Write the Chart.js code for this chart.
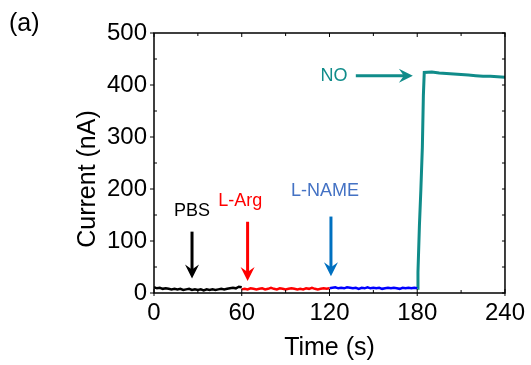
<!DOCTYPE html>
<html lang="en">
<head>
    <meta charset="UTF-8">
    <title>Current vs Time</title>
    <script src="https://cdn.jsdelivr.net/npm/chart.js"></script>
    <style>
        html, body {
            margin: 0;
            padding: 0;
            background: #ffffff;
            overflow: hidden;
        }
        .chart-box {
            width: 531px;
            height: 365px;
            position: relative;
        }
    </style>
</head>
<body>
    <div class="chart-box">
        <canvas id="currentChart" width="531" height="365"></canvas>
    </div>

    <script>
        // PBS segment (black)
        const timePBS = [0, 2, 4, 6, 8, 10, 12, 14, 16, 18, 20, 22, 24, 26, 28, 30, 32, 34, 36, 38, 40, 42, 44, 46, 48, 50, 52, 54, 56, 58, 60];
        const currentPBS = [11, 9, 10, 8, 9, 8, 7, 8, 7, 8, 6, 7, 8, 6, 7, 6, 7, 5, 7, 6, 7, 6, 7, 8, 7, 8, 9, 10, 9, 12, 11];

        // L-Arg segment (red)
        const timeArg = [60, 62, 64, 66, 68, 70, 72, 74, 76, 78, 80, 82, 84, 86, 88, 90, 92, 94, 96, 98, 100, 102, 104, 106, 108, 110, 112, 114, 116, 118, 120];
        const currentArg = [7, 8, 7, 9, 8, 7, 8, 9, 7, 8, 10, 8, 7, 9, 8, 7, 8, 9, 8, 7, 8, 7, 9, 8, 10, 8, 7, 8, 9, 8, 9];

        // L-NAME segment (blue)
        const timeName = [120, 122, 124, 126, 128, 130, 132, 134, 136, 138, 140, 142, 144, 146, 148, 150, 152, 154, 156, 158, 160, 162, 164, 166, 168, 170, 172, 174, 176, 178, 180];
        const currentName = [9, 10, 11, 9, 10, 9, 11, 10, 9, 10, 8, 10, 9, 11, 9, 10, 9, 10, 8, 9, 10, 9, 10, 9, 8, 10, 9, 10, 9, 10, 9];

        // NO segment (teal)
        const timeNO = [180, 180.5, 181.5, 182.5, 183.5, 184.2, 184.8, 190, 195, 200, 205, 210, 215, 220, 225, 230, 235, 240];
        const currentNO = [9, 40, 130, 200, 280, 380, 424, 425, 423, 422, 421, 420, 419, 418, 417, 417, 416, 415];

        const xTicks = [0, 60, 120, 180, 240];
        const yTicks = [0, 100, 200, 300, 400, 500];

        // labels with arrows, in data coordinates
        const labelText = ['PBS', 'L-Arg', 'L-NAME', 'NO'];
        const labelAt = [[26, 158], [59, 176], [117, 197], [123, 418]];
        const arrowFrom = [[26, 118], [64, 137], [121, 147], [138, 418]];
        const arrowTo = [[26, 28], [64, 23], [121, 32], [177, 418]];

        const colPBS = '#000000';
        const colArg = '#ff0000';
        const colName = '#0000ff';
        const colNO = '#108c8a';
        const labelColors = ['#000000', '#ff0000', '#4472c4', colNO];
        const arrowColors = ['#000000', '#ff0000', '#0070c0', colNO];

        const fontFamily = '"Liberation Sans", Arial, sans-serif';

        function toPoints(xs, ys) {
            return xs.map((x, i) => ({ x: x, y: ys[i] }));
        }

        function makeSet(label, xs, ys, color, width) {
            return {
                label: label,
                data: toPoints(xs, ys),
                borderColor: color,
                backgroundColor: color,
                borderWidth: width,
                pointRadius: 0,
                tension: 0,
                fill: false
            };
        }

        function drawArrow(ctx, x0, y0, x1, y1, color) {
            const ang = Math.atan2(y1 - y0, x1 - x0);
            const headLen = 14;
            const headHalf = 7;
            const bx = x1 - Math.cos(ang) * headLen;
            const by = y1 - Math.sin(ang) * headLen;
            ctx.strokeStyle = color;
            ctx.fillStyle = color;
            ctx.lineWidth = 3;
            ctx.beginPath();
            ctx.moveTo(x0, y0);
            ctx.lineTo(x1 - Math.cos(ang) * 6, y1 - Math.sin(ang) * 6);
            ctx.stroke();
            const nx = -Math.sin(ang), ny = Math.cos(ang);
            ctx.beginPath();
            ctx.moveTo(x1, y1);
            ctx.lineTo(bx + nx * headHalf, by + ny * headHalf);
            ctx.lineTo(x1 - Math.cos(ang) * 9, y1 - Math.sin(ang) * 9);
            ctx.lineTo(bx - nx * headHalf, by - ny * headHalf);
            ctx.closePath();
            ctx.fill();
        }

        // frame, inward ticks, axis titles and labels
        const framePlugin = {
            id: 'frame',
            afterDraw(chart) {
                const ctx = chart.ctx;
                const area = chart.chartArea;
                const xs = chart.scales.x;
                const ys = chart.scales.y;
                ctx.save();

                ctx.strokeStyle = '#000';
                ctx.lineWidth = 1.5;
                ctx.strokeRect(area.left, area.top, area.right - area.left, area.bottom - area.top);

                ctx.lineWidth = 1;
                ctx.beginPath();
                for (let v = 0; v <= 240; v += 30) {
                    const px = xs.getPixelForValue(v);
                    const len = v % 60 === 0 ? 4 : 3;
                    ctx.moveTo(px, area.bottom);
                    ctx.lineTo(px, area.bottom - len);
                    ctx.moveTo(px, area.top);
                    ctx.lineTo(px, area.top + len);
                    if (v % 60 === 0) {
                        ctx.moveTo(px, area.bottom);
                        ctx.lineTo(px, area.bottom + 3);
                    }
                }
                for (let v = 0; v <= 500; v += 50) {
                    const py = ys.getPixelForValue(v);
                    const len = 3;
                    ctx.moveTo(area.right, py);
                    ctx.lineTo(area.right - len, py);
                    if (v % 100 === 0) {
                        ctx.moveTo(area.left, py);
                        ctx.lineTo(area.left - 4, py);
                    } else {
                        ctx.moveTo(area.left, py);
                        ctx.lineTo(area.left + len, py);
                    }
                }
                ctx.stroke();

                // axis titles
                ctx.fillStyle = '#000';
                ctx.font = '25px ' + fontFamily;
                ctx.textAlign = 'center';
                ctx.textBaseline = 'middle';
                ctx.fillText('Time (s)', (area.left + area.right) / 2, 348);
                ctx.save();
                ctx.translate(88, 179);
                ctx.rotate(-Math.PI / 2);
                ctx.fillText('Current (nA)', 0, 0);
                ctx.restore();

                ctx.textAlign = 'left';
                ctx.fillText('(a)', 9, 24);

                // labels and arrows
                ctx.font = '18px ' + fontFamily;
                ctx.textAlign = 'center';
                for (let i = 0; i < labelText.length; i++) {
                    ctx.fillStyle = labelColors[i];
                    ctx.fillText(labelText[i], xs.getPixelForValue(labelAt[i][0]), ys.getPixelForValue(labelAt[i][1]));
                    drawArrow(ctx,
                        xs.getPixelForValue(arrowFrom[i][0]), ys.getPixelForValue(arrowFrom[i][1]),
                        xs.getPixelForValue(arrowTo[i][0]), ys.getPixelForValue(arrowTo[i][1]),
                        arrowColors[i]);
                }
                ctx.restore();
            }
        };

        const ctx = document.getElementById('currentChart').getContext('2d');
        const chart = new Chart(ctx, {
            type: 'line',
            data: {
                datasets: [
                    makeSet('PBS', timePBS, currentPBS, colPBS, 2.5),
                    makeSet('L-Arg', timeArg, currentArg, colArg, 2.5),
                    makeSet('L-NAME', timeName, currentName, colName, 2.5),
                    makeSet('NO', timeNO, currentNO, colNO, 3)
                ]
            },
            options: {
                responsive: false,
                animation: false,
                devicePixelRatio: 1,
                layout: {
                    padding: { top: 33, right: 25, left: 0, bottom: 0 }
                },
                plugins: {
                    legend: { display: false },
                    tooltip: { enabled: false }
                },
                scales: {
                    x: {
                        type: 'linear',
                        min: 0,
                        max: 240,
                        afterBuildTicks: (s) => { s.ticks = xTicks.map(v => ({ value: v })); },
                        afterFit: (s) => { s.height = 72; },
                        grid: { display: false, drawTicks: false },
                        border: { display: false },
                        ticks: {
                            color: '#000',
                            padding: 6,
                            maxRotation: 0,
                            font: { family: fontFamily, size: 24 }
                        }
                    },
                    y: {
                        min: 0,
                        max: 500,
                        afterBuildTicks: (s) => { s.ticks = yTicks.map(v => ({ value: v })); },
                        afterFit: (s) => { s.width = 154; },
                        grid: { display: false, drawTicks: false },
                        border: { display: false },
                        ticks: {
                            color: '#000',
                            padding: 7,
                            font: { family: fontFamily, size: 24 }
                        }
                    }
                }
            },
            plugins: [framePlugin]
        });
    </script>
</body>
</html>
